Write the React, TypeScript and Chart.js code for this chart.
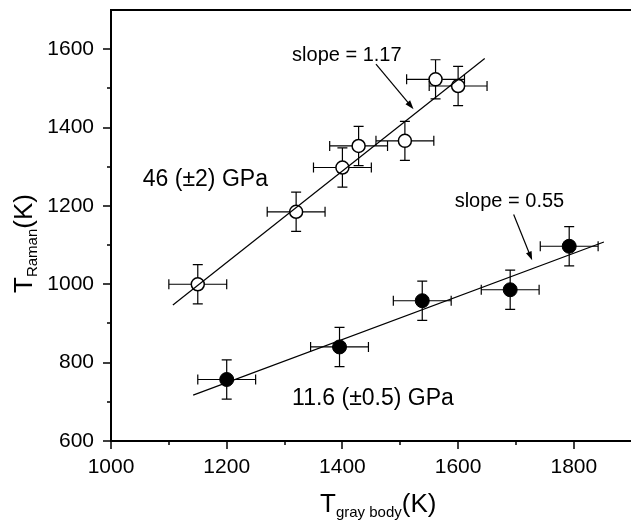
import React, { useEffect, useRef } from 'react';
import { Chart, registerables } from 'chart.js';
Chart.register(...registerables);

// ---- data ----
const openX = [1150, 1320, 1400, 1428, 1508, 1561, 1600];
const openY = [1000, 1185, 1298, 1353, 1366, 1523, 1506];
const filledX = [1200, 1395, 1538, 1690, 1792];
const filledY = [757, 840, 958, 986, 1097];
const xErr = 50;
const yErr = 50;
const openFitX = [1107, 1646];
const openFitY = [947, 1576];
const filledFitX = [1142, 1852];
const filledFitY = [717, 1108];
const xMajorTicks = [1000, 1200, 1400, 1600, 1800];
const xMinorTicks = [1100, 1300, 1500, 1700];
const yMajorTicks = [600, 800, 1000, 1200, 1400, 1600];
const yMinorTicks = [700, 900, 1100, 1300, 1500];
const annotTexts = ['46 (\u00B12) GPa', '11.6 (\u00B10.5) GPa', 'slope = 1.17', 'slope = 0.55'];
const annotX = [1055, 1313, 1313, 1594];
const annotY = [1250, 692, 1571, 1197];
const annotSize = [23, 23, 20, 20];
const arrowFromX = [1458, 1696];
const arrowFromY = [1562, 1178];
const arrowToX = [1523, 1728];
const arrowToY = [1447, 1061];

const FONT = '"Liberation Sans", Arial, Helvetica, sans-serif';

const toPts = (xs: number[], ys: number[]) => xs.map((x, i) => ({ x, y: ys[i] }));

const customPlugin = {
  id: 'custom',
  beforeDatasetsDraw(chart: any) {
    const { ctx, scales } = chart;
    const xs = scales.x, ys = scales.y;
    ctx.save();
    ctx.strokeStyle = '#000';
    ctx.lineWidth = 1.2;
    const cap = 5;
    const all = [...toPts(openX, openY), ...toPts(filledX, filledY)];
    all.forEach((p) => {
      const px = xs.getPixelForValue(p.x), py = ys.getPixelForValue(p.y);
      const x1 = xs.getPixelForValue(p.x - xErr), x2 = xs.getPixelForValue(p.x + xErr);
      const y1 = ys.getPixelForValue(p.y - yErr), y2 = ys.getPixelForValue(p.y + yErr);
      ctx.beginPath();
      ctx.moveTo(x1, py); ctx.lineTo(x2, py);
      ctx.moveTo(x1, py - cap); ctx.lineTo(x1, py + cap);
      ctx.moveTo(x2, py - cap); ctx.lineTo(x2, py + cap);
      ctx.moveTo(px, y1); ctx.lineTo(px, y2);
      ctx.moveTo(px - cap, y1); ctx.lineTo(px + cap, y1);
      ctx.moveTo(px - cap, y2); ctx.lineTo(px + cap, y2);
      ctx.stroke();
    });
    ctx.restore();
  },
  afterDraw(chart: any) {
    const { ctx, scales, chartArea } = chart;
    const xs = scales.x, ys = scales.y;
    const { left, top, bottom } = chartArea;
    const right = chart.width;
    ctx.save();
    ctx.strokeStyle = '#000';
    ctx.fillStyle = '#000';
    // axes frame
    ctx.lineWidth = 2;
    ctx.beginPath();
    ctx.moveTo(left, top); ctx.lineTo(left, bottom + 1);
    ctx.moveTo(left - 1, bottom); ctx.lineTo(right, bottom);
    ctx.moveTo(left - 1, top); ctx.lineTo(right, top);
    ctx.stroke();
    // ticks
    ctx.lineWidth = 1.5;
    ctx.beginPath();
    xMajorTicks.forEach((v) => { const p = Math.round(xs.getPixelForValue(v)); ctx.moveTo(p, bottom); ctx.lineTo(p, bottom + 8); });
    xMinorTicks.forEach((v) => { const p = Math.round(xs.getPixelForValue(v)); ctx.moveTo(p, bottom); ctx.lineTo(p, bottom + 4); });
    yMajorTicks.forEach((v) => { const p = Math.round(ys.getPixelForValue(v)); ctx.moveTo(left, p); ctx.lineTo(left - 8, p); });
    yMinorTicks.forEach((v) => { const p = Math.round(ys.getPixelForValue(v)); ctx.moveTo(left, p); ctx.lineTo(left - 4, p); });
    ctx.stroke();
    // annotations
    ctx.textBaseline = 'alphabetic';
    ctx.textAlign = 'left';
    annotTexts.forEach((t, i) => {
      ctx.font = `${annotSize[i]}px ${FONT}`;
      ctx.fillText(t, xs.getPixelForValue(annotX[i]), ys.getPixelForValue(annotY[i]));
    });
    // arrows
    ctx.lineWidth = 1.2;
    arrowFromX.forEach((_, i) => {
      const x0 = xs.getPixelForValue(arrowFromX[i]), y0 = ys.getPixelForValue(arrowFromY[i]);
      const x1 = xs.getPixelForValue(arrowToX[i]), y1 = ys.getPixelForValue(arrowToY[i]);
      const ang = Math.atan2(y1 - y0, x1 - x0);
      const L = 9, W = 3;
      ctx.beginPath();
      ctx.moveTo(x0, y0); ctx.lineTo(x1 - Math.cos(ang) * L * 0.8, y1 - Math.sin(ang) * L * 0.8);
      ctx.stroke();
      ctx.beginPath();
      ctx.moveTo(x1, y1);
      ctx.lineTo(x1 - Math.cos(ang) * L + Math.sin(ang) * W, y1 - Math.sin(ang) * L - Math.cos(ang) * W);
      ctx.lineTo(x1 - Math.cos(ang) * L - Math.sin(ang) * W, y1 - Math.sin(ang) * L + Math.cos(ang) * W);
      ctx.closePath();
      ctx.fill();
    });
    // x axis title
    ctx.font = `26px ${FONT}`;
    let tx = 320;
    const tyx = 512;
    ctx.fillText('T', tx, tyx);
    tx += ctx.measureText('T').width;
    ctx.font = `15px ${FONT}`;
    ctx.fillText('gray body', tx, tyx + 5);
    tx += ctx.measureText('gray body').width;
    ctx.font = `26px ${FONT}`;
    ctx.fillText('(K)', tx, tyx);
    // y axis title (rotated)
    ctx.save();
    ctx.translate(32, 293);
    ctx.rotate(-Math.PI / 2);
    ctx.font = `26px ${FONT}`;
    let ty = 0;
    ctx.fillText('T', ty, 0);
    ty += ctx.measureText('T').width;
    ctx.font = `15px ${FONT}`;
    ctx.fillText('Raman', ty, 5);
    ty += ctx.measureText('Raman').width;
    ctx.font = `26px ${FONT}`;
    ctx.fillText('(K)', ty, 0);
    ctx.restore();
    ctx.restore();
  },
};

export default function App() {
  const ref = useRef<HTMLCanvasElement>(null);
  useEffect(() => {
    if (!ref.current) return;
    const chart = new Chart(ref.current, {
      type: 'scatter',
      data: {
        datasets: [
          {
            type: 'line',
            data: toPts(openFitX, openFitY),
            borderColor: '#000',
            borderWidth: 1.2,
            pointRadius: 0,
            fill: false,
          },
          {
            type: 'line',
            data: toPts(filledFitX, filledFitY),
            borderColor: '#000',
            borderWidth: 1.2,
            pointRadius: 0,
            fill: false,
          },
          {
            data: toPts(openX, openY),
            pointStyle: 'circle',
            pointRadius: 6.5,
            pointBackgroundColor: '#fff',
            pointBorderColor: '#000',
            pointBorderWidth: 1.5,
          },
          {
            data: toPts(filledX, filledY),
            pointStyle: 'circle',
            pointRadius: 7,
            pointBackgroundColor: '#000',
            pointBorderColor: '#000',
            pointBorderWidth: 1,
          },
        ] as any,
      },
      options: {
        responsive: false,
        animation: false,
        devicePixelRatio: 1,
        layout: { padding: { top: 10, left: 0, right: 0, bottom: 0 } },
        plugins: { legend: { display: false }, tooltip: { enabled: false }, title: { display: false } },
        scales: {
          x: {
            type: 'linear',
            min: 1000,
            max: 1885,
            grid: { display: false, drawTicks: false, tickLength: 0 },
            border: { display: false },
            afterBuildTicks: (s: any) => { s.ticks = xMajorTicks.map((v) => ({ value: v })); },
            afterFit: (s: any) => { s.height = 81; s.paddingLeft = 0; s.paddingRight = 0; s.paddingTop = 0; s.paddingBottom = 0; },
            ticks: { color: '#000', font: { family: FONT, size: 21 }, padding: 14, maxRotation: 0, autoSkip: false, callback: (v: any) => String(v) },
          },
          y: {
            type: 'linear',
            min: 600,
            max: 1700,
            grid: { display: false, drawTicks: false, tickLength: 0 },
            border: { display: false },
            afterBuildTicks: (s: any) => { s.ticks = yMajorTicks.map((v) => ({ value: v })); },
            afterFit: (s: any) => { s.width = 111; s.paddingLeft = 0; s.paddingRight = 0; s.paddingTop = 0; s.paddingBottom = 0; },
            ticks: { color: '#000', font: { family: FONT, size: 21 }, padding: 17, autoSkip: false, callback: (v: any) => String(v) },
          },
        },
      } as any,
      plugins: [customPlugin],
    });
    return () => chart.destroy();
  }, []);
  return (
    <div style={{ position: 'fixed', left: 0, top: 0, width: 631, height: 522, background: '#fff' }}>
      <canvas ref={ref} width={631} height={522} />
    </div>
  );
}
